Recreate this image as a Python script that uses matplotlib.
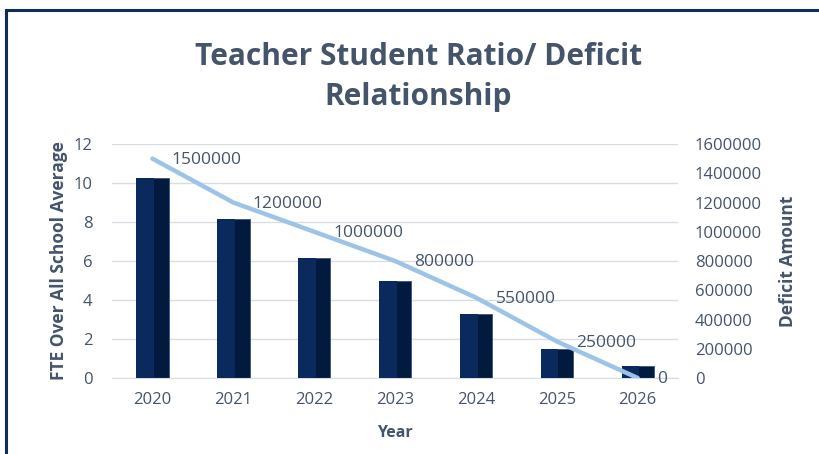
import matplotlib.pyplot as plt
import numpy as np

# Dati
years = ['2020', '2021', '2022', '2023', '2024', '2025', '2026']
fte = [10.25, 8.15, 6.15, 4.95, 3.3, 1.5, 0.6]
deficit = [1500000, 1200000, 1000000, 800000, 550000, 250000, 0]

txt = '#44546A'
plt.rcParams['font.family'] = ['Open Sans', 'DejaVu Sans']

fig = plt.figure(figsize=(8.2, 4.54), dpi=100)
ax = fig.add_axes([0.1366, 0.1674, 0.6904, 0.5154])
ax2 = ax.twinx()

x = np.arange(len(years))
w = 0.4

# Barre con effetto "bevel" semplice
ax.bar(x, fte, width=w, color='#021A3E', edgecolor='#3A5580', linewidth=0.6, zorder=2)
ax.bar(x - w / 2, fte, width=w * 0.55, align='edge', color='#0A2A5E', linewidth=0, zorder=3)

ax.set_ylim(0, 12)
ax.set_yticks(range(0, 13, 2))
ax.set_xlim(-0.5, len(years) - 0.5)
ax.set_xticks(x)
ax.set_xticklabels(years)
ax.grid(axis='y', color='#D9DDE3', linewidth=1, zorder=0)
ax.set_axisbelow(True)

ax2.plot(x, deficit, color='#9DC3E6', linewidth=3.2, solid_capstyle='round', zorder=4)
for xi, d in zip(x, deficit):
    ax2.annotate(f"{d}", (xi, d), xytext=(14, -1), textcoords='offset points',
                 ha='left', va='center', fontsize=12.5, color=txt)
ax2.set_ylim(0, 1600000)
ax2.set_yticks(range(0, 1600001, 200000))
ax2.yaxis.set_major_formatter(plt.FuncFormatter(lambda v, p: f"{int(v)}"))

for a in (ax, ax2):
    for s in a.spines.values():
        s.set_visible(False)
    a.tick_params(length=0, labelsize=12, labelcolor=txt)
ax.spines['bottom'].set_visible(True)
ax.spines['bottom'].set_color('#D9DDE3')
ax.tick_params(axis='y', pad=14)
ax.tick_params(axis='x', pad=10)
ax2.tick_params(axis='y', pad=12)

ax.set_xlabel('Year', fontsize=11.5, fontweight='bold', color=txt, labelpad=12)
ax.set_ylabel('FTE Over All School Average', fontsize=12.5, fontweight='bold', color=txt, labelpad=4)
ax2.set_ylabel('Deficit Amount', fontsize=12.5, fontweight='bold', color=txt, labelpad=12)

fig.text(0.51, 0.83, 'Teacher Student Ratio/ Deficit\nRelationship', ha='center', va='center',
         fontsize=21.5, fontweight='bold', color=txt, linespacing=1.45)

# Cornice blu
fig.add_artist(plt.Line2D([0.007, 1.0], [0.978, 0.978], color='#0E2D5C', linewidth=2.2))
fig.add_artist(plt.Line2D([0.007, 0.007], [0.0, 0.978], color='#0E2D5C', linewidth=2.2))

fig.savefig('out.png', dpi=100)
